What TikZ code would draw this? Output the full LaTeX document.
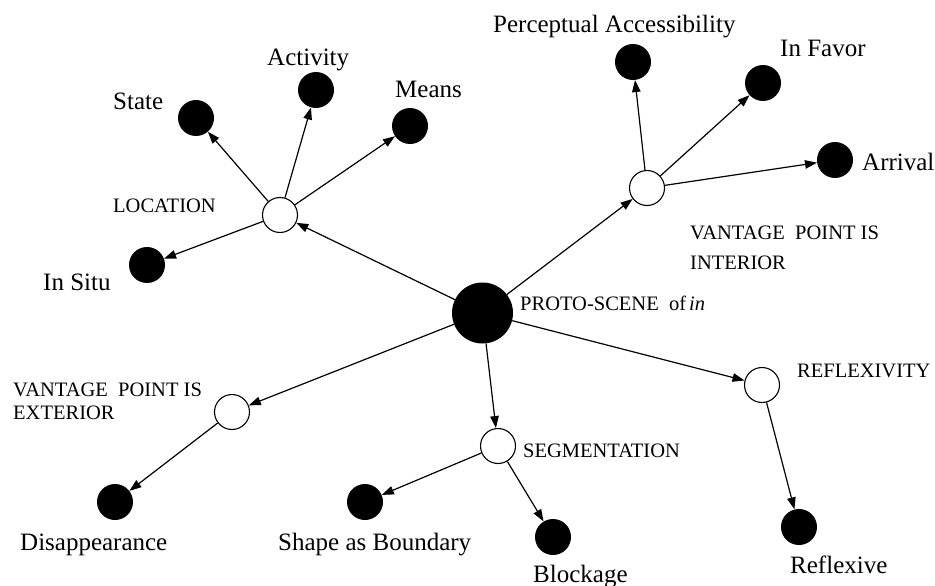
\documentclass[tikz,border=0pt]{standalone}
\usepackage{fontspec}
\setmainfont{Liberation Serif}
\usetikzlibrary{arrows.meta}
\begin{document}
\begin{tikzpicture}[x=1pt,y=-1pt,
  root/.style={circle,fill=black,minimum size=61pt,inner sep=0pt},
  hub/.style={circle,draw=black,fill=white,line width=1.1pt,minimum size=35pt,inner sep=0pt},
  sense/.style={circle,fill=black,minimum size=36pt,inner sep=0pt},
  lbl/.style={anchor=base west,inner sep=0pt,font=\fontsize{25}{30}\selectfont},
  caplbl/.style={anchor=base west,inner sep=0pt,align=left,font=\fontsize{20.5}{24}\selectfont},
  link/.style={-{Triangle[length=12pt,width=8.5pt]},line width=1.2pt}]
\useasboundingbox (0,0) rectangle (935,586);
\fill[white] (0,0) rectangle (935,586);

% central scene and the five clusters
\node[root] (proto) at (482.5,313) {};
\node[hub] (loc)  at (280,215) {};
\node[hub] (int)  at (647,188) {};
\node[hub] (ext)  at (232,412) {};
\node[hub] (seg)  at (498,446) {};
\node[hub] (refl) at (762,385) {};

% individual senses
\node[sense] (state)  at (196,118) {};
\node[sense] (activ)  at (316,90) {};
\node[sense] (means)  at (410,126) {};
\node[sense] (situ)   at (147,265) {};
\node[sense] (perc)   at (633,62) {};
\node[sense] (favor)  at (763,83) {};
\node[sense] (arriv)  at (835,160) {};
\node[sense] (disap)  at (115,502) {};
\node[sense] (shape)  at (365,502) {};
\node[sense] (block)  at (553,537) {};
\node[sense] (reflx)  at (799,527) {};

% labels (two-line labels are placed by the baseline of their last line)
\node[caplbl] (tproto) at (520,310) {PROTO-SCENE~~of\hspace{3pt}\textit{in}};
\node[caplbl] (tloc)   at (113,212) {LOCATION};
\node[caplbl,font=\fontsize{20.5}{30}\selectfont] (tint) at (690,269) {VANTAGE~~POINT IS\\INTERIOR};
\node[caplbl,font=\fontsize{20.5}{23}\selectfont] (text) at (13,419) {VANTAGE~~POINT IS\\EXTERIOR};
\node[caplbl] (tseg)   at (523,457) {SEGMENTATION};
\node[caplbl] (trefl)  at (797,377) {REFLEXIVITY};

\node[lbl] (tstate) at (113,110) {State};
\node[lbl] (tactiv) at (267,66) {Activity};
\node[lbl] (tmeans) at (395,97) {Means};
\node[lbl] (tsitu)  at (43,290) {In Situ};
\node[lbl] (tperc)  at (493,33) {Perceptual Accessibility};
\node[lbl] (tfavor) at (780,57) {In Favor};
\node[lbl] (tarriv) at (862,170) {Arrival};
\node[lbl] (tdisap) at (20,550) {Disappearance};
\node[lbl] (tshape) at (278,550) {Shape as Boundary};
\node[lbl] (tblock) at (533,582) {Blockage};
\node[lbl] (treflx) at (790,573) {Reflexive};

% connectors
\draw[link] (proto) -- (loc);
\draw[link] (proto) -- (int);
\draw[link] (proto) -- (ext);
\draw[link] (proto) -- (seg);
\draw[link] (proto) -- (refl);

\draw[link] (loc) -- (state);
\draw[link] (loc) -- (activ);
\draw[link] (loc) -- (means);
\draw[link] (loc) -- (situ);

\draw[link] (int) -- (perc);
\draw[link] (int) -- (favor);
\draw[link] (int) -- (arriv);

\draw[link] (ext) -- (disap);

\draw[link] (seg) -- (shape);
\draw[link] (seg) -- (block);

\draw[link] (refl) -- (reflx);
\end{tikzpicture}
\end{document}
